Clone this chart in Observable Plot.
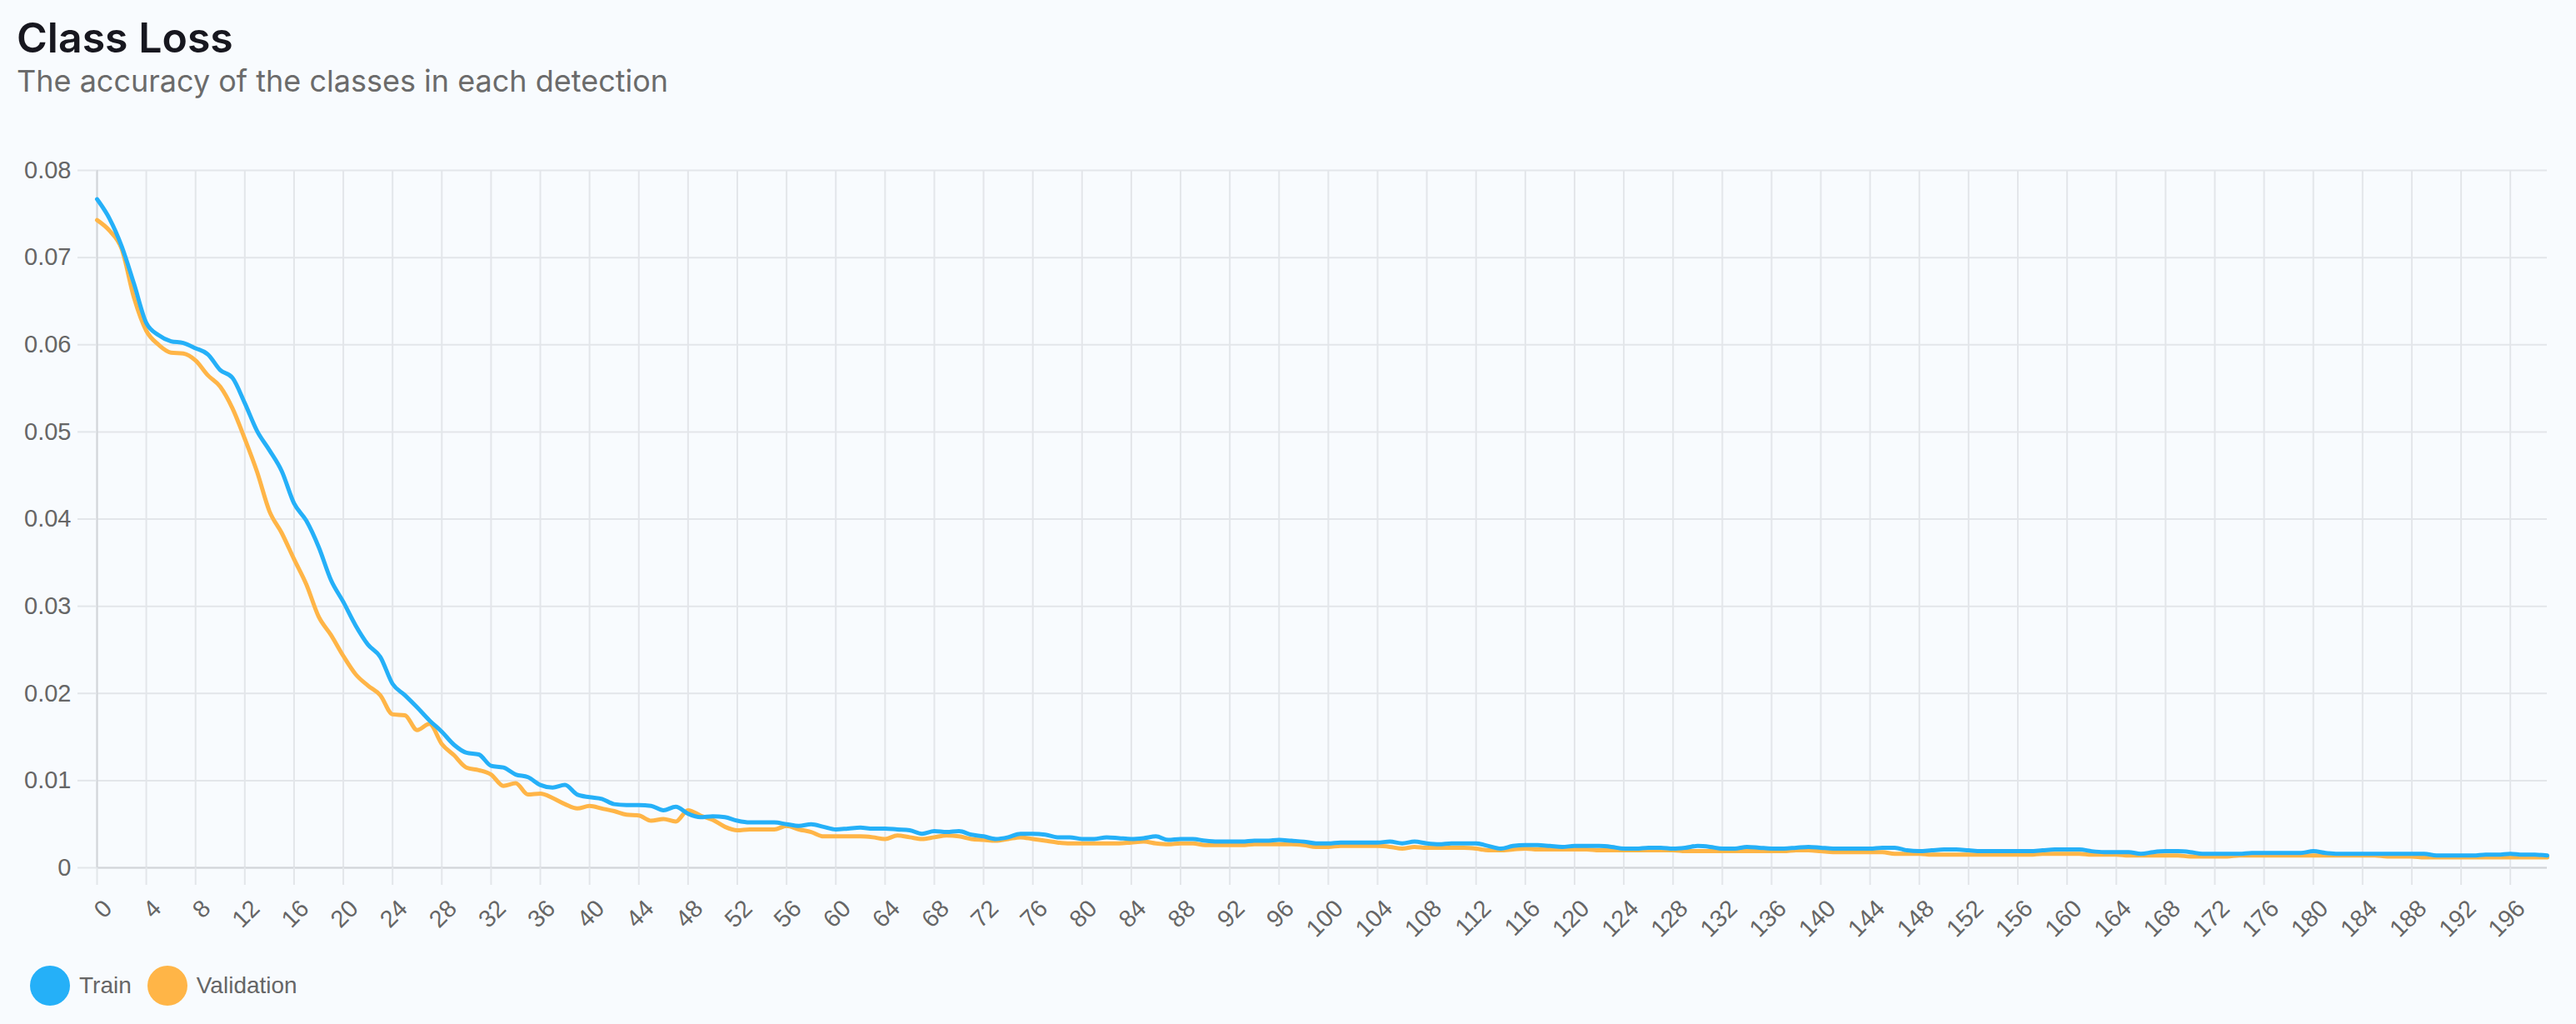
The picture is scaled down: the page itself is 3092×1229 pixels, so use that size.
<!DOCTYPE html>
<html><head><meta charset="utf-8">
<script src="https://cdn.jsdelivr.net/npm/d3@7"></script>
<script src="https://cdn.jsdelivr.net/npm/@observablehq/plot@0.6"></script>
<style>
html,body{margin:0;padding:0;background:#f8fbfe;width:3092px;height:1229px;overflow:hidden;position:relative}
#title{position:absolute;left:20px;top:20px;font-family:Inter,sans-serif;font-weight:600;font-size:50px;line-height:1;color:#17171f;white-space:nowrap}
#subtitle{position:absolute;left:20px;top:79px;font-family:Inter,sans-serif;font-weight:400;font-size:36px;line-height:1;color:#6b6b6b;white-space:nowrap}
#chart{position:absolute;left:0;top:130px}
#legend{position:absolute;left:36px;top:1159px;display:flex;align-items:center;font-family:"Liberation Sans",Arial,sans-serif;font-size:28px;color:#666}
.sw{width:48px;height:48px;border-radius:50%;display:inline-block;margin-right:11px}
.item{display:flex;align-items:center;margin-right:19px}
</style>
</head><body>
<div id="title">Class Loss</div>
<div id="subtitle">The accuracy of the classes in each detection</div>
<div id="chart"></div>
<div id="legend"></div>
<script>
const epochs = d3.range(0, 200);
const xTickLabels = d3.range(0, 200, 4);
const yTickValues = [0, 0.01, 0.02, 0.03, 0.04, 0.05, 0.06, 0.07, 0.08];
const seriesNames = ["Train", "Validation"];
const seriesColors = ["#25b0f8", "#ffb547"];

const trainLoss = [
0.0767,0.0745,0.0713,0.0670,0.0625,0.0611,0.0604,0.0602,0.0596,0.0589,
0.0571,0.0562,0.0533,0.0501,0.0479,0.0455,0.0418,0.0398,0.0368,0.0330,
0.0305,0.0278,0.0256,0.0242,0.0211,0.0198,0.0184,0.0169,0.0156,0.0141,
0.0132,0.0130,0.0117,0.0115,0.0107,0.0104,0.0095,0.0092,0.0095,0.0084,
0.0081,0.0079,0.0073,0.0072,0.0072,0.0071,0.0066,0.0070,0.0062,0.0058,
0.0059,0.0058,0.0054,0.0052,0.0052,0.0052,0.0050,0.0048,0.0050,0.0047,
0.0044,0.0045,0.0046,0.0045,0.0045,0.0044,0.0043,0.0039,0.0042,0.0041,
0.0042,0.0038,0.0036,0.0033,0.0035,0.0039,0.0039,0.0038,0.0035,0.0035,
0.0033,0.0033,0.0035,0.0034,0.0033,0.0034,0.0036,0.0032,0.0033,0.0033,
0.0031,0.0030,0.0030,0.0030,0.0031,0.0031,0.0032,0.0031,0.0030,0.0028,
0.0028,0.0029,0.0029,0.0029,0.0029,0.0030,0.0028,0.0030,0.0028,0.0027,
0.0028,0.0028,0.0028,0.0025,0.0022,0.0025,0.0026,0.0026,0.0025,0.0024,
0.0025,0.0025,0.0025,0.0024,0.0022,0.0022,0.0023,0.0023,0.0022,0.0023,
0.0025,0.0024,0.0022,0.0022,0.0024,0.0023,0.0022,0.0022,0.0023,0.0024,
0.0023,0.0022,0.0022,0.0022,0.0022,0.0023,0.0023,0.0020,0.0019,0.0020,
0.0021,0.0021,0.0020,0.0019,0.0019,0.0019,0.0019,0.0019,0.0020,0.0021,
0.0021,0.0021,0.0019,0.0018,0.0018,0.0018,0.0016,0.0018,0.0019,0.0019,
0.0018,0.0016,0.0016,0.0016,0.0016,0.0017,0.0017,0.0017,0.0017,0.0017,
0.0019,0.0017,0.0016,0.0016,0.0016,0.0016,0.0016,0.0016,0.0016,0.0016,
0.0014,0.0014,0.0014,0.0014,0.0015,0.0015,0.0016,0.0015,0.0015,0.0014
];

const validationLoss = [
0.0743,0.0731,0.0710,0.0654,0.0616,0.0600,0.0591,0.0590,0.0582,0.0565,
0.0552,0.0527,0.0492,0.0454,0.0409,0.0384,0.0354,0.0325,0.0288,0.0267,
0.0243,0.0222,0.0209,0.0198,0.0176,0.0175,0.0158,0.0165,0.0142,0.0129,
0.0115,0.0112,0.0107,0.0094,0.0097,0.0084,0.0085,0.0080,0.0073,0.0068,
0.0071,0.0068,0.0065,0.0061,0.0060,0.0054,0.0056,0.0053,0.0066,0.0060,
0.0055,0.0047,0.0043,0.0044,0.0044,0.0044,0.0048,0.0044,0.0041,0.0036,
0.0036,0.0036,0.0036,0.0035,0.0033,0.0037,0.0035,0.0033,0.0035,0.0037,
0.0036,0.0033,0.0032,0.0031,0.0033,0.0035,0.0033,0.0031,0.0029,0.0028,
0.0028,0.0028,0.0028,0.0028,0.0029,0.0030,0.0028,0.0027,0.0028,0.0028,
0.0026,0.0026,0.0026,0.0026,0.0027,0.0027,0.0027,0.0027,0.0026,0.0024,
0.0024,0.0025,0.0025,0.0025,0.0025,0.0024,0.0022,0.0024,0.0023,0.0023,
0.0023,0.0023,0.0022,0.0020,0.0020,0.0021,0.0022,0.0021,0.0021,0.0021,
0.0021,0.0021,0.0020,0.0020,0.0020,0.0020,0.0020,0.0020,0.0020,0.0019,
0.0019,0.0019,0.0019,0.0019,0.0019,0.0019,0.0019,0.0019,0.0020,0.0020,
0.0019,0.0018,0.0018,0.0018,0.0018,0.0018,0.0016,0.0016,0.0016,0.0015,
0.0015,0.0015,0.0015,0.0015,0.0015,0.0015,0.0015,0.0015,0.0016,0.0016,
0.0016,0.0016,0.0015,0.0015,0.0015,0.0014,0.0014,0.0014,0.0014,0.0014,
0.0013,0.0013,0.0013,0.0013,0.0014,0.0014,0.0014,0.0014,0.0014,0.0014,
0.0014,0.0014,0.0014,0.0014,0.0014,0.0014,0.0013,0.0013,0.0013,0.0012,
0.0012,0.0012,0.0012,0.0012,0.0012,0.0012,0.0012,0.0012,0.0012,0.0012
];

const trainData = epochs.map((e, i) => ({epoch: e, value: trainLoss[i]}));
const valData = epochs.map((e, i) => ({epoch: e, value: validationLoss[i]}));

const gridColor = "#e3e6ea";
const chart = Plot.plot({
  width: 3092,
  height: 1000,
  marginTop: 74,
  marginBottom: 89,
  marginLeft: 116,
  marginRight: 35,
  style: {background: "transparent", fontFamily: "'Liberation Sans', Arial, sans-serif", fontSize: "29px", color: "#666"},
  x: {domain: [0, 199]},
  y: {domain: [0, 0.08]},
  marks: [
    Plot.gridY({ticks: yTickValues, stroke: gridColor, strokeOpacity: 1, strokeWidth: 2}),
    Plot.gridX({ticks: xTickLabels, stroke: gridColor, strokeOpacity: 1, strokeWidth: 2}),
    Plot.ruleY([0], {stroke: "#d2d5d9", strokeWidth: 2}),
    Plot.ruleX([0], {stroke: "#d2d5d9", strokeWidth: 2}),
    Plot.axisY({ticks: yTickValues, tickSize: 23, tickPadding: 8, stroke: gridColor, strokeWidth: 2, fill: "#666", label: null,
      tickFormat: d => d === 0 ? "0" : d.toFixed(2)}),
    Plot.axisX({ticks: xTickLabels, tickSize: 21, stroke: gridColor, strokeWidth: 2, label: null, tickFormat: () => ""}),
    Plot.text(xTickLabels, {x: d => d, text: d => String(d), frameAnchor: "bottom", dy: 44, dx: 13, rotate: -45,
      textAnchor: "end", lineAnchor: "middle", fill: "#666"}),
    Plot.line(valData, {x: "epoch", y: "value", stroke: seriesColors[1], strokeWidth: 5, curve: "monotone-x"}),
    Plot.line(trainData, {x: "epoch", y: "value", stroke: seriesColors[0], strokeWidth: 5, curve: "monotone-x"})
  ]
});
document.getElementById("chart").appendChild(chart);

const legend = document.getElementById("legend");
seriesNames.forEach((name, i) => {
  const item = document.createElement("div");
  item.className = "item";
  const sw = document.createElement("span");
  sw.className = "sw";
  sw.style.background = seriesColors[i];
  const lab = document.createElement("span");
  lab.textContent = name;
  item.appendChild(sw);
  item.appendChild(lab);
  legend.appendChild(item);
});
</script>
</body></html>
